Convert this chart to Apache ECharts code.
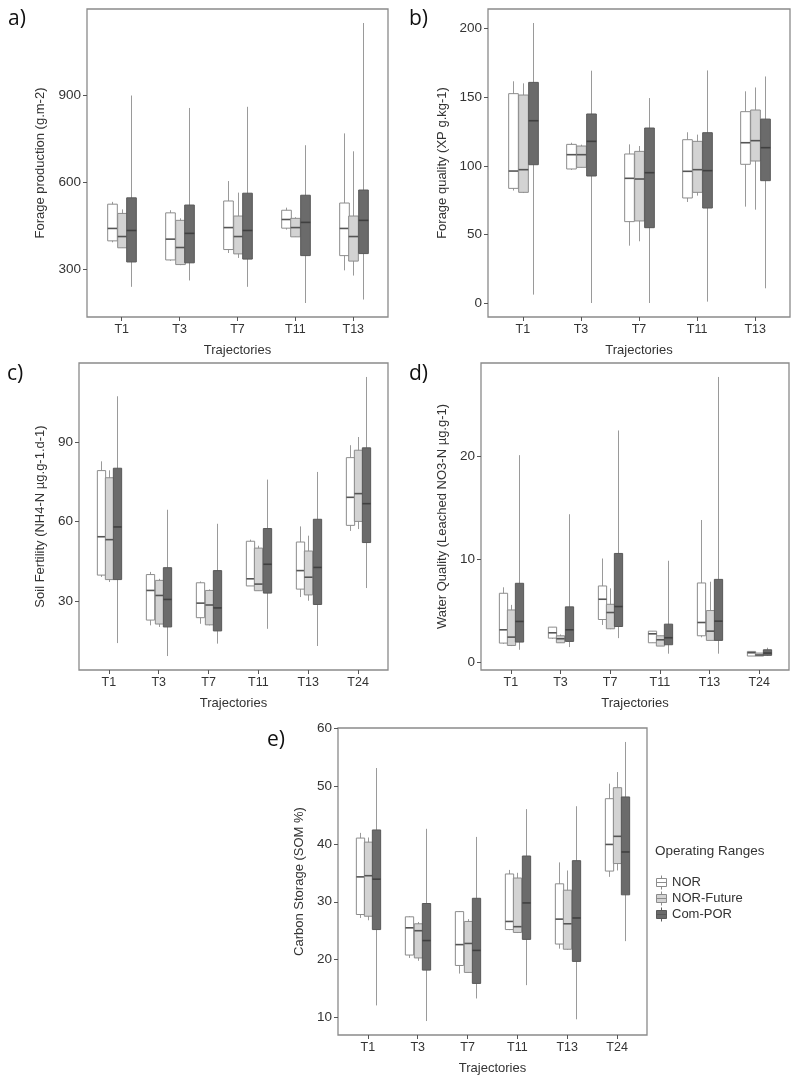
<!DOCTYPE html>
<html>
<head>
<meta charset="utf-8">
<script src="https://cdn.jsdelivr.net/npm/echarts@6/dist/echarts.min.js"></script>
<style>html,body{margin:0;padding:0;background:#fff}#c{width:800px;height:1083px}</style>
</head>
<body>
<div id="c"></div>
<script>
// ---- Categories ----
const cats5 = ['T1','T3','T7','T11','T13'];
const cats6 = ['T1','T3','T7','T11','T13','T24'];
const groups = ['NOR','NOR-Future','Com-POR'];

// ---- Data: [min, q1, median, q3, max] per trajectory ----
// a) Forage production (g.m-2)
const forageProdNOR = [[392,397,440,524,532],[328,331,403,494,503],[355,367,443,535,604],[436,441,471,503,512],[295,346,440,528,769]];
const forageProdFut = [[373,373,412,492,506],[313,315,374,468,475],[338,352,412,483,564],[411,411,443,475,479],[277,327,412,483,707]];
const forageProdCom = [[238,324,433,546,900],[260,321,423,521,857],[238,334,433,562,861],[182,346,461,555,728],[194,353,468,573,1151]];
// b) Forage quality (XP g.kg-1)
const forageQualNOR = [[82,83.6,96.2,152.5,161.5],[97,97.7,108.1,115.6,116.8],[41.9,59.4,90.9,108.6,115.6],[73.7,76.6,96,119,124.4],[70.3,101.1,116.8,139.4,154.2]];
const forageQualFut = [[80.2,80.7,97.2,151.5,160],[98.9,98.9,108.1,114.4,115.4],[45.1,59.9,90.4,110.5,114.4],[78.3,80.7,97.2,117.8,122.7],[68.1,103.5,118.3,140.6,157]];
const forageQualCom = [[6.3,100.8,132.8,160.7,203.9],[0.2,92.6,117.8,137.7,169.2],[0.2,55,95,127.5,149.3],[1.2,69.3,96.5,124.1,169.4],[10.9,89.2,113.2,134,165]];
// c) Soil fertility (NH4-N µg.g-1.d-1)
const soilFertNOR = [[39.1,39.8,54.3,79.3,82.8],[20.8,22.8,34,40,41],[21.4,23.7,29.2,36.9,37.4],[35.7,35.7,38.4,52.6,53.2],[31.5,34.5,41.5,52.3,58.2],[56.5,58.6,69.2,84.2,88.9]];
const soilFertFut = [[37.2,38.1,53.2,76.6,79.4],[20.2,21.3,32.1,37.8,38.4],[20.8,21,28.5,34,34.4],[33.9,33.9,36.4,50,50.9],[30.1,32.3,39,48.9,54.7],[57.2,60.1,70.6,87,92]];
const soilFertCom = [[14.1,38.1,58,80.2,107.4],[9.2,20.2,30.6,42.6,64.5],[13.9,18.7,27.4,41.5,59.2],[19.5,33,43.9,57.4,75.9],[13,28.7,42.7,60.9,78.8],[34.9,52.1,66.8,87.9,114.7]];
// d) Water quality (Leached NO3-N µg.g-1)
const waterQualNOR = [[1.77,1.84,3.13,6.68,7.26],[2.26,2.32,2.84,3.39,3.39],[3.6,4.13,6.1,7.39,10.06],[1.87,1.87,2.74,3.0,3.0],[2.4,2.55,3.84,7.68,13.8],[0.58,0.58,0.9,1.03,1.03]];
const waterQualFut = [[1.55,1.61,2.42,5.06,5.55],[1.87,1.87,2.26,2.55,2.68],[3.19,3.23,4.81,5.61,7.16],[1.55,1.55,2.16,2.55,2.55],[2.1,2.1,3.0,5.0,7.8],[0.58,0.58,0.68,0.87,0.87]];
const waterQualCom = [[1.19,1.94,3.94,7.65,20.1],[1.45,2.0,3.13,5.36,14.36],[2.32,3.45,5.39,10.55,22.5],[0.81,1.68,2.36,3.68,9.84],[0.81,2.1,3.97,8.03,27.7],[0.61,0.65,0.87,1.19,1.39]];
// e) Carbon storage (SOM %)
const carbonNOR = [[27.2,27.8,34.3,41,41.9],[20.3,20.8,25.5,27.4,27.5],[17.6,19,22.6,28.3,28.4],[25.1,25.2,26.6,34.8,35.5],[21.9,22.7,27,33.1,36.8],[34.3,35.3,39.9,47.8,50.4]];
const carbonFut = [[26.8,27.5,34.5,40.3,41.1],[19.8,20.3,25,26.2,26.5],[17.8,17.8,22.8,26.6,27],[24.6,24.7,25.7,34.1,35],[21.7,21.8,26.2,32,35.4],[35.4,36.6,41.3,49.7,52.4]];
const carbonCom = [[12.1,25.2,33.9,42.4,53.1],[9.4,18.2,23.3,29.7,42.6],[13.3,15.9,21.6,30.6,41.2],[15.6,23.5,29.8,37.9,46],[9.7,19.7,27.2,37.1,46.5],[23.2,31.2,38.6,48.1,57.6]];

// ---- Tick labels ----
const ticksA = [300,600,900];
const ticksB = [0,50,100,150,200];
const ticksC = [30,60,90];
const ticksD = [0,10,20];
const ticksE = [10,20,30,40,50,60];

// ---- Panels ----
const panels = [
  {label:'a)', cats:cats5, data:[forageProdNOR,forageProdFut,forageProdCom], ticks:ticksA, yname:'Forage production (g.m-2)', grid:{left:87,top:9,width:301,height:308}, nameGap:40, lab:[8,9]},
  {label:'b)', cats:cats5, data:[forageQualNOR,forageQualFut,forageQualCom], ticks:ticksB, yname:'Forage quality (XP g.kg-1)', grid:{left:488,top:9,width:302,height:308}, nameGap:39, lab:[409,9]},
  {label:'c)', cats:cats6, data:[soilFertNOR,soilFertFut,soilFertCom], ticks:ticksC, yname:'Soil Fertility (NH4-N µg.g-1.d-1)', grid:{left:79,top:363,width:309,height:307}, nameGap:32, lab:[7,364]},
  {label:'d)', cats:cats6, data:[waterQualNOR,waterQualFut,waterQualCom], ticks:ticksD, yname:'Water Quality (Leached NO3-N µg.g-1)', grid:{left:481,top:363,width:308,height:307}, nameGap:32, lab:[409,364]},
  {label:'e)', cats:cats6, data:[carbonNOR,carbonFut,carbonCom], ticks:ticksE, yname:'Carbon Storage (SOM %)', grid:{left:338,top:728,width:309,height:307}, nameGap:32, lab:[267,730]}
];

const fills = ['#ffffff','#d3d3d3','#6b6b6b'];
const borders = ['#8c8c8c','#8c8c8c','#595959'];
const medians = ['#555555','#555555','#404040'];
const whisk = ['#9a9a9a','#9a9a9a','#9a9a9a'];
const offsets = [-1/6, 0, 1/6];
const BOXW = 1/6;
const FONT = "'Liberation Sans', Arial, sans-serif";

function makeRender(g){
  return function(params, api){
    const x = api.value(0) + offsets[g];
    const lo = api.coord([x, api.value(1)]);
    const q1 = api.coord([x, api.value(2)]);
    const md = api.coord([x, api.value(3)]);
    const q3 = api.coord([x, api.value(4)]);
    const hi = api.coord([x, api.value(5)]);
    const w = api.size([BOXW, 0])[0];
    const cx = Math.round(lo[0]) + 0.5;
    return {type:'group', children:[
      {type:'line', shape:{x1:cx,y1:lo[1],x2:cx,y2:hi[1]}, style:{stroke:whisk[g], lineWidth:1}},
      {type:'rect', shape:{x:cx-w/2, y:q3[1], width:w, height:q1[1]-q3[1]}, style:{fill:fills[g], stroke:borders[g], lineWidth:1}},
      {type:'line', shape:{x1:cx-w/2,y1:md[1],x2:cx+w/2,y2:md[1]}, style:{stroke:medians[g], lineWidth:1.6}}
    ]};
  };
}

const grids=[], xAxes=[], yAxes=[], series=[], graphics=[];
panels.forEach((p,pi)=>{
  grids.push(Object.assign({show:true, borderColor:'#8a8a8a', borderWidth:1.3, backgroundColor:'#fff'}, p.grid));
  const n = p.cats.length;
  const idx = p.cats.map((c,i)=>i+1);
  xAxes.push({type:'value', gridIndex:pi, min:0.4, max:n+0.6,
    axisLine:{show:false, onZero:false}, splitLine:{show:false},
    axisTick:{show:true, length:4, customValues:idx, lineStyle:{color:'#555'}},
    axisLabel:{customValues:idx, formatter:(v)=>p.cats[Math.round(v)-1]||'', margin:6, fontSize:12.5, color:'#333', fontFamily:FONT},
    name:'Trajectories', nameLocation:'middle', nameGap:27, nameTextStyle:{fontSize:13, color:'#333', fontFamily:FONT}});
  let all=[];
  p.data.forEach(arr=>arr.forEach(r=>all=all.concat(r)));
  const mn=Math.min(...all), mx=Math.max(...all), ex=(mx-mn)*0.05;
  yAxes.push({type:'value', gridIndex:pi, min:mn-ex, max:mx+ex,
    axisLine:{show:false, onZero:false}, splitLine:{show:false},
    axisTick:{show:true, length:4, customValues:p.ticks, lineStyle:{color:'#555'}},
    axisLabel:{customValues:p.ticks, margin:6, fontSize:13.5, color:'#333', fontFamily:FONT},
    name:p.yname, nameLocation:'middle', nameGap:p.nameGap, nameTextStyle:{fontSize:13, color:'#333', fontFamily:FONT}});
  p.data.forEach((arr,g)=>{
    series.push({type:'custom', name:groups[g], xAxisIndex:pi, yAxisIndex:pi,
      itemStyle:{color:fills[g], borderColor:borders[g]},
      encode:{x:0, y:[1,2,3,4,5]},
      data:arr.map((r,i)=>[i+1].concat(r)),
      renderItem:makeRender(g), z:2+g, silent:true});
  });
  graphics.push({type:'text', left:p.lab[0], top:p.lab[1], style:{text:p.label, fontSize:21, fill:'#111', fontFamily:"'Open Sans', sans-serif"}});
});
graphics.push({type:'text', left:655, top:844, style:{text:'Operating Ranges', fontSize:13.5, fill:'#333', fontFamily:FONT}});

const iconPath = 'path://M5,0L5,3M0,3L10,3L10,11L0,11ZM0,7L10,7M5,11L5,14';
const chart = echarts.init(document.getElementById('c'), null, {renderer:'canvas'});
chart.setOption({
  animation:false,
  grid:grids, xAxis:xAxes, yAxis:yAxes, series:series, graphic:graphics,
  legend:{orient:'vertical', left:656, top:875, itemWidth:11, itemHeight:14, itemGap:1, selectedMode:false, padding:0,
    textStyle:{fontSize:13, lineHeight:14, color:'#333', fontFamily:FONT},
    data:groups.map((g,i)=>({name:g, icon:iconPath, itemStyle:{color:fills[i], borderColor:borders[i], borderWidth:1}}))}
});
</script>
</body>
</html>
